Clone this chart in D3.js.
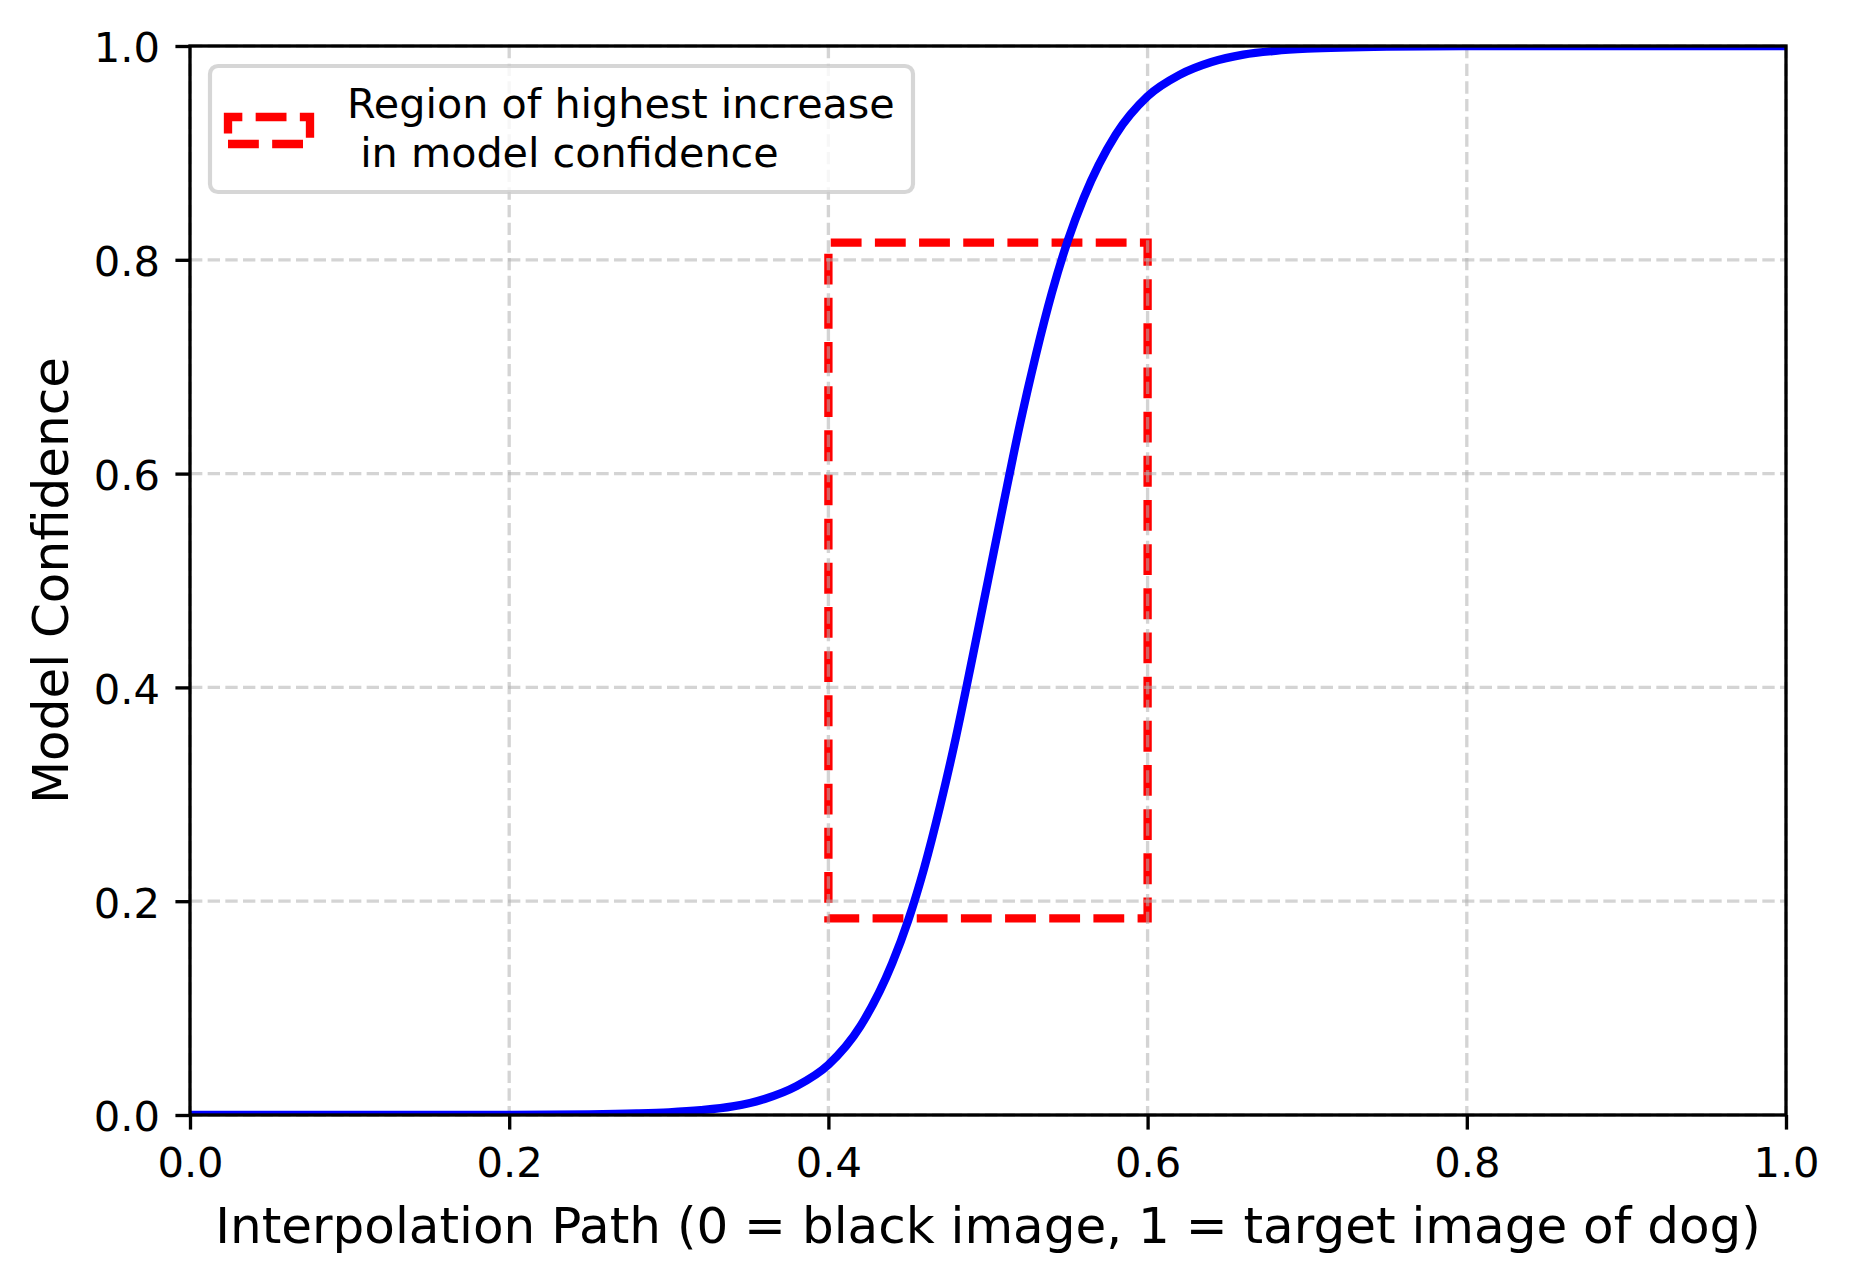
<!DOCTYPE html>
<html>
<head>
<meta charset="utf-8">
<script src="https://cdn.jsdelivr.net/npm/d3@7"></script>
<style>
  html, body { margin: 0; padding: 0; background: #fff; }
  svg { display: block; font-family: "DejaVu Sans", sans-serif; }
</style>
</head>
<body>
<svg id="chart"></svg>
<script>
// Curve (interpolation step -> model confidence)
const pathX = [0, 0.05, 0.1, 0.15, 0.2, 0.25, 0.28, 0.3, 0.32, 0.34, 0.36, 0.38, 0.40,
  0.42, 0.44, 0.45, 0.46, 0.47, 0.48, 0.49, 0.50, 0.51, 0.52, 0.53, 0.54, 0.55, 0.56,
  0.58, 0.60, 0.62, 0.64, 0.66, 0.68, 0.70, 0.75, 0.8, 0.9, 1.0];
const confidence = [0.000, 0.000, 0.000, 0.000, 0.000, 0.0005, 0.0014, 0.0025, 0.0045, 0.008,
  0.015, 0.027, 0.047, 0.083, 0.142, 0.182, 0.231, 0.289, 0.354, 0.426, 0.500, 0.574,
  0.646, 0.711, 0.769, 0.818, 0.858, 0.917, 0.953, 0.973, 0.985, 0.992, 0.9955, 0.9975,
  0.9995, 1.0, 1.0, 1.0];

// highlighted region [x0, x1] x [y0, y1]
const regionX = [0.4, 0.6];
const regionY = [0.184, 0.816];

const xTicks = [0, 0.2, 0.4, 0.6, 0.8, 1.0];
const yTicks = [0, 0.2, 0.4, 0.6, 0.8, 1.0];

const legendLines = ["Region of highest increase", " in model confidence"];
const xLabel = "Interpolation Path (0 = black image, 1 = target image of dog)";
const yLabel = "Model Confidence";

const W = 1849, H = 1282;
const margin = {top: 46, right: 63, bottom: 167, left: 190};
const iw = W - margin.left - margin.right;
const ih = H - margin.top - margin.bottom;

const px = 300 / 72; // points -> pixels at 300 dpi
const tickFs = 10 * px, labelFs = 12 * px;

const svg = d3.select("#chart").attr("width", W).attr("height", H);

svg.append("defs").append("clipPath").attr("id", "clip")
  .append("rect").attr("width", iw).attr("height", ih);

const g = svg.append("g").attr("transform", `translate(${margin.left},${margin.top})`);

const x = d3.scaleLinear().domain([0, 1]).range([0, iw]);
const y = d3.scaleLinear().domain([0, 1]).range([ih, 0]);

const dash = `${3.7 * 2 * px} ${1.6 * 2 * px}`;

// highlighted region rectangle (path starts at bottom-left like matplotlib)
const rx0 = x(regionX[0]), rx1 = x(regionX[1]);
const ry0 = y(regionY[0]), ry1 = y(regionY[1]);
g.append("path")
  .attr("d", `M${rx0},${ry0}L${rx1},${ry0}L${rx1},${ry1}L${rx0},${ry1}Z`)
  .attr("fill", "none")
  .attr("stroke", "#ff0000")
  .attr("stroke-width", 2 * px)
  .attr("stroke-dasharray", dash)
  .attr("stroke-linejoin", "miter");

// grid
const grid = g.append("g").attr("stroke", "#b0b0b0").attr("stroke-opacity", 0.55)
  .attr("stroke-width", 0.8 * px).attr("stroke-dasharray", `${2.96 * px} ${1.28 * px}`);
grid.selectAll(".gx").data(xTicks).enter().append("line")
  .attr("x1", d => x(d)).attr("x2", d => x(d)).attr("y1", 0).attr("y2", ih);
grid.selectAll(".gy").data(yTicks).enter().append("line")
  .attr("y1", d => y(d)).attr("y2", d => y(d)).attr("x1", 0).attr("x2", iw);

// curve
const pts = pathX.map((d, i) => [d, confidence[i]]);
g.append("path")
  .datum(pts)
  .attr("clip-path", "url(#clip)")
  .attr("fill", "none")
  .attr("stroke", "#0000ff")
  .attr("stroke-width", 2 * px)
  .attr("stroke-linejoin", "round")
  .attr("d", d3.line().x(d => x(d[0])).y(d => y(d[1])).curve(d3.curveMonotoneX));

// axes
const tickLen = 3.5 * px;
const xAxis = g.append("g").attr("transform", `translate(0,${ih})`)
  .call(d3.axisBottom(x).tickValues(xTicks).tickFormat(d3.format(".1f"))
    .tickSize(tickLen).tickSizeOuter(0).tickPadding(17.8));
const yAxis = g.append("g")
  .call(d3.axisLeft(y).tickValues(yTicks).tickFormat(d3.format(".1f"))
    .tickSize(tickLen).tickSizeOuter(0).tickPadding(15.4));
[xAxis, yAxis].forEach(a => {
  a.select(".domain").remove();
  a.selectAll(".tick line").attr("stroke", "#000").attr("stroke-width", 0.8 * px);
  a.selectAll(".tick text").attr("fill", "#000")
    .style("font-family", "DejaVu Sans").style("font-size", tickFs + "px");
});
yAxis.selectAll(".tick text").attr("dy", "0.38em");

// spines
g.append("rect").attr("width", iw).attr("height", ih)
  .attr("fill", "none").attr("stroke", "#000").attr("stroke-width", 0.8 * px);

// axis labels
svg.append("text")
  .attr("x", margin.left + iw / 2).attr("y", 1243)
  .attr("text-anchor", "middle").style("font-size", labelFs + "px")
  .text(xLabel);
svg.append("text")
  .attr("transform", `translate(68,${margin.top + ih / 2}) rotate(-90)`)
  .attr("text-anchor", "middle").style("font-size", labelFs + "px")
  .text(yLabel);

// legend
const lg = svg.append("g");
lg.append("rect")
  .attr("x", 210).attr("y", 66).attr("width", 703).attr("height", 126)
  .attr("rx", 8).attr("ry", 8)
  .attr("fill", "#fff").attr("fill-opacity", 0.8)
  .attr("stroke", "#cccccc").attr("stroke-opacity", 0.8).attr("stroke-width", px);
const hx0 = 228, hx1 = 310, hy0 = 144, hy1 = 117;
lg.append("path")
  .attr("d", `M${hx0},${hy0}L${hx1},${hy0}L${hx1},${hy1}L${hx0},${hy1}Z`)
  .attr("fill", "none")
  .attr("stroke", "#ff0000")
  .attr("stroke-width", 2 * px)
  .attr("stroke-dasharray", dash)
  .attr("stroke-linejoin", "miter");
lg.selectAll(".lt").data(legendLines).enter().append("text")
  .attr("x", 347).attr("y", (d, i) => 118 + i * 48.5)
  .attr("xml:space", "preserve")
  .style("white-space", "pre")
  .style("font-size", "41.3px")
  .text(d => d);
</script>
</body>
</html>
